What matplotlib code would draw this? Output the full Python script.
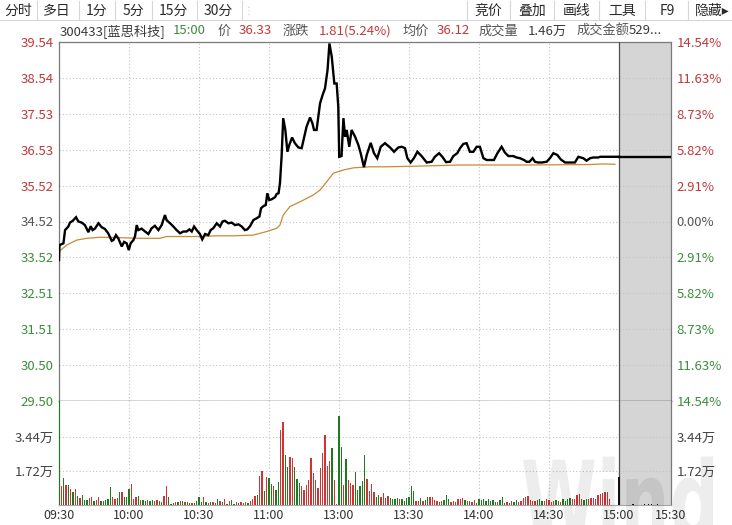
import matplotlib
matplotlib.use('Agg')
import matplotlib.pyplot as plt
from matplotlib.lines import Line2D
from matplotlib.textpath import TextPath
from matplotlib.patches import PathPatch
from matplotlib.font_manager import FontProperties
from matplotlib.transforms import Affine2D, IdentityTransform

plt.rcParams['font.family'] = ['Noto Sans CJK SC', 'DejaVu Sans']

# ---------------- data ----------------
prev_close = 34.52
close_price = 36.33

# minutes since 09:30 (lunch break removed), price
price_t = [0, 0.2, 1.9, 2.6, 4, 4.7, 5.9, 7.3, 8.3, 9.7,
           11.1, 12.6, 13.6, 14.4, 15.4, 16.9, 18.3, 19.7, 21.1, 22.6,
           23.3, 24.4, 25.4, 26.9, 27.9, 29, 29.9, 30.7, 31.9, 32.6,
           33.3, 34, 35.4, 36.9, 38.3, 39.7, 41.1, 42.6, 44, 45.4,
           46.1, 47.6, 49, 50.4, 51.9, 53.3, 54.7, 55.9, 56.9, 57.9,
           59, 60.4, 61.4, 62.6, 64, 65, 66.1, 67.6, 69, 70.1,
           71.1, 72.6, 74, 75.4, 76.9, 78.3, 79.7, 80.7, 81.9, 83.3,
           84.7, 85.9, 86.6, 87.6, 88.6, 89.3, 90.1, 91.1, 92.6, 93.3,
           94.1, 94.7, 95.4, 96.1, 97, 97.9, 98.7, 99.9, 101.1, 102.6,
           104, 105.1, 106.1, 107.6, 108.6, 109.3, 110.4, 111.9, 113, 114,
           115.1, 115.9, 116.9, 118, 119, 119.7, 120.1, 121.1, 121.9, 122.6,
           123.3, 124.4, 125.4, 126.9, 128.3, 129.3, 130.7, 131.9, 133.6, 135,
           136.4, 137.9, 139.7, 141.9, 143.6, 145.4, 146.9, 148.3, 149.3, 150.7,
           152.1, 153.6, 155.4, 157.6, 159.7, 161.1, 162.9, 164.3, 165.9, 167.6,
           169, 170.7, 171.9, 173.3, 174.7, 176.1, 177.6, 179, 180.4, 181.9,
           183.3, 185, 186.4, 187.9, 189.7, 191.1, 192.6, 194.7, 196.1, 197.6,
           199.3, 200.4, 201.6, 203, 204, 205.4, 206.9, 209, 210.4, 211.9,
           213.6, 215, 216.9, 219, 221.1, 222.6, 224.7, 226.1, 227.6, 229,
           231.1, 231.9, 239, 240]
price_v = [33.44, 33.86, 33.91, 34.28, 34.38, 34.49, 34.54, 34.64, 34.52, 34.49,
           34.42, 34.22, 34.39, 34.28, 34.32, 34.47, 34.36, 34.31, 34.19, 33.98,
           34.00, 34.14, 34.05, 33.82, 33.95, 33.91, 33.72, 33.91, 34.00, 34.11,
           34.42, 34.28, 34.32, 34.24, 34.17, 34.33, 34.40, 34.28, 34.42, 34.70,
           34.56, 34.47, 34.38, 34.28, 34.19, 34.24, 34.24, 34.30, 34.24, 34.38,
           34.28, 34.17, 34.02, 34.17, 34.14, 34.28, 34.33, 34.47, 34.38, 34.52,
           34.54, 34.47, 34.49, 34.42, 34.44, 34.38, 34.28, 34.30, 34.39, 34.56,
           34.61, 34.66, 34.89, 34.95, 34.98, 35.31, 35.12, 35.14, 35.20, 35.29,
           35.31, 35.59, 36.33, 37.41, 37.08, 36.47, 36.66, 36.87, 36.71, 36.59,
           36.57, 36.89, 37.17, 37.43, 37.27, 37.08, 37.08, 37.83, 38.06, 38.24,
           38.76, 39.50, 39.13, 38.38, 38.38, 37.73, 36.33, 36.35, 37.41, 36.89,
           37.08, 36.61, 37.08, 36.89, 36.66, 36.43, 36.04, 36.38, 36.72, 36.43,
           36.29, 36.61, 36.71, 36.59, 36.47, 36.59, 36.61, 36.57, 36.29, 36.17,
           36.29, 36.47, 36.35, 36.17, 36.19, 36.33, 36.43, 36.33, 36.18, 36.19,
           36.35, 36.43, 36.57, 36.69, 36.71, 36.47, 36.47, 36.61, 36.61, 36.29,
           36.24, 36.24, 36.24, 36.43, 36.61, 36.45, 36.35, 36.35, 36.31, 36.29,
           36.24, 36.19, 36.19, 36.29, 36.19, 36.17, 36.17, 36.19, 36.29, 36.43,
           36.38, 36.26, 36.17, 36.17, 36.17, 36.33, 36.29, 36.22, 36.29, 36.31,
           36.31, 36.33, 36.33, 36.33]

avg_t = [0, 3.3, 7.6, 11.9, 17.6, 24.7, 34.7, 43.3, 46.1, 60.4, 67.6, 74.7,
         83.3, 89, 93.3, 94.7, 96.1, 99, 103.3, 109, 111.9, 114.7, 117.6,
         121.9, 126.1, 133.3, 140.4, 154.7, 171.9, 197.6, 226.1, 233.3, 238.3]
avg_v = [33.68, 33.86, 34.00, 34.05, 34.08, 34.07, 34.05, 34.05, 34.10, 34.10,
         34.12, 34.12, 34.14, 34.24, 34.33, 34.42, 34.70, 34.94, 35.07, 35.26,
         35.40, 35.63, 35.87, 35.96, 36.02, 36.05, 36.05, 36.07, 36.10, 36.10,
         36.11, 36.13, 36.12]

# per-minute volume (万 shares), index 0 = 09:30 ... 240 = 15:00
vol = [6.0,
       0.96, 1.38, 1.01, 1.01, 0.79, 0.67, 0.81, 0.46, 0.35, 0.51,
       0.25, 0.25, 0.34, 0.42, 0.20, 0.25, 0.40, 0.20, 0.20, 0.27,
       0.29, 0.91, 0.40, 0.30, 0.37, 0.66, 0.66, 0.40, 0.40, 0.79,
       1.05, 0.32, 0.39, 0.46, 0.25, 0.25, 0.20, 0.25, 0.20, 0.25,
       0.19, 0.24, 0.20, 0.17, 0.46, 0.96, 0.40, 0.07, 0.08, 0.13,
       0.15, 0.19, 0.20, 0.13, 0.15, 0.08, 0.10, 0.10, 0.20,
       0.40, 0.17, 0.39, 0.17, 0.10, 0.15, 0.15, 0.12, 0.30, 0.20,
       0.17, 0.30, 0.07, 0.20, 0.27, 0.07, 0.17, 0.08, 0.17, 0.10,
       0.13, 0.12, 0.20, 0.30, 0.46, 0.52,
       1.47, 1.72, 0.71, 1.40, 1.37, 1.05, 0.96, 0.76, 1.18, 3.79,
       4.20, 2.53, 1.94, 2.43, 2.36, 1.94, 1.30, 1.10, 0.96, 0.76,
       1.01, 1.26, 2.36, 1.63, 1.26, 0.84, 1.88, 2.61, 3.54, 1.99,
       2.23, 2.90, 1.26, 0.05, 4.50,
       2.93, 1.01, 2.33, 1.26, 1.10, 1.01, 1.69, 0.76, 0.96, 1.23,
       2.53, 1.33, 0.72, 1.05, 0.64, 0.42, 0.51, 0.42, 0.59, 0.37,
       0.47, 0.35, 0.32, 0.29, 0.35, 0.32, 0.30, 0.20, 0.37, 0.40,
       0.96, 0.72, 0.22, 0.22, 0.35, 0.22, 0.25, 0.40, 0.40, 0.40,
       0.25, 0.20, 0.17, 0.20, 0.25, 0.51, 0.32, 0.13, 0.20, 0.17,
       0.29, 0.32, 0.34, 0.25, 0.22, 0.20, 0.17, 0.24, 0.12,
       0.32, 0.25, 0.29, 0.19, 0.29, 0.20, 0.25, 0.15, 0.17, 0.25,
       0.40, 0.08, 0.17, 0.12, 0.20, 0.13, 0.25, 0.17, 0.20, 0.34,
       0.42, 0.46, 0.25, 0.22, 0.20, 0.25, 0.29, 0.20, 0.20, 0.29,
       0.25, 0.17, 0.20, 0.25, 0.20, 0.17, 0.29, 0.20, 0.32, 0.37,
       0.32, 0.29, 0.51, 0.54, 0.30, 0.25, 0.32, 0.29, 0.34, 0.37,
       0.32, 0.51, 0.56, 0.59, 0.64, 0.66, 0.29,
       0, 0, 0, 1.42]
# r = up minute, g = down minute, k = closing auction
vol_dir = ("g"
           "rgrgrgrgrg" "ggrrgrrggg" "ggrrggrggg" "rrrgrggrgg" "rrggrrgggr"
           "grgrggrgg"
           "ggrgrgrggr" "grgrggrgrg" "rgrrrg"
           "rrgrggrggr" "rggrrgggrr" "rrrrrrrrrr" "rgrrg"
           "grgrrrgggg" "grrrrggrrr" "rggggrgggg" "ggrrgrggrr" "rrgrgggrrr"
           "rrrgrgrrg"
           "ggggggggrg" "ggrgrggrrr" "rrrrrgggrr" "rrrggrgggg" "rrrrrggrrr"
           "rrrrrrr"
           "ggg" "k")
after_t = [246, 251, 252.6, 254, 256.5]
after_v = [0.04, 0.04, 0.04, 0.04, 0.04]

price_ticks = [29.50, 30.50, 31.51, 32.51, 33.52, 34.52, 35.52, 36.53, 37.53, 38.54, 39.54]
pct_labels = ['14.54%', '11.63%', '8.73%', '5.82%', '2.91%', '0.00%',
              '2.91%', '5.82%', '8.73%', '11.63%', '14.54%']
vol_ticks = [1.72, 3.44]
vol_tick_labels = ['1.72万', '3.44万']
time_labels = ['09:30', '10:00', '10:30', '11:00', '13:00', '13:30',
               '14:00', '14:30', '15:00', '15:30']
toolbar_left = ['分时', '多日', '1分', '5分', '15分', '30分']
toolbar_right = ['竞价', '叠加', '画线', '工具', 'F9', '隐藏▸']
header = [('300433[蓝思科技]', 'dark'), ('15:00', 'green'), ('价', 'label'),
          ('36.33', 'red'), ('涨跌', 'label'), ('1.81(5.24%)', 'red'),
          ('均价', 'label'), ('36.12', 'red'), ('成交量', 'label'),
          ('1.46万', 'dark'), ('成交金额', 'label'), ('529...', 'dark')]

# ---------------- style / layout ----------------
RED_T = '#c0393b'
GREEN_T = '#3c8c3c'
GRAY_T = '#555555'
DARK_T = '#3a3a3a'
BAR_RED = '#cf3434'
BAR_GREEN = '#1f7a1f'
text_colors = {'dark': DARK_T, 'green': GREEN_T, 'label': '#555555', 'red': RED_T}
TICK_FS = 9.5

W, H = 732, 525
fig = plt.figure(figsize=(W / 100, H / 100), dpi=100, facecolor='white')

L, R = 59, 671
TOP, MID, BOT = 42, 401, 505
SESSION_END = 240
AX_END = 262.3
time_pos = [0, 30, 60, 90, 120, 150, 180, 210, 240, AX_END]


def rect(x0, y0, x1, y1):
    return [x0 / W, 1 - y1 / H, (x1 - x0) / W, (y1 - y0) / H]


ax_p = fig.add_axes(rect(L, TOP, R, MID))
ax_v = fig.add_axes(rect(L, MID, R, BOT))

grid_kw = dict(color='#c4c4c4', linestyle=(0, (1, 2)), linewidth=0.8)
for ax in (ax_p, ax_v):
    ax.set_xlim(0, AX_END)
    ax.set_xticks(time_pos)
    ax.set_axisbelow(True)
    ax.grid(True, **grid_kw)
    ax.axvspan(SESSION_END, AX_END, color='#d5d5d5', zorder=0.5, lw=0)
    ax.axvline(SESSION_END, color='#505050', lw=0.9, zorder=3)
    ax.tick_params(length=0)
    for s in ('left', 'right'):
        ax.spines[s].set_color('#7a7a7a')
        ax.spines[s].set_linewidth(0.9)

# price panel
ax_p.set_ylim(price_ticks[0], price_ticks[-1])
ax_p.set_yticks(price_ticks)
ax_p.set_yticklabels([f'{v:.2f}' for v in price_ticks], fontsize=TICK_FS)
ax_p.tick_params(axis='y', pad=4)
ax_p.tick_params(axis='x', labelbottom=False)


def level_color(v):
    if abs(v - prev_close) < 1e-6:
        return GRAY_T
    return RED_T if v > prev_close else GREEN_T


for lab, v in zip(ax_p.get_yticklabels(), price_ticks):
    lab.set_color(level_color(v))
ax_p.spines['top'].set_color('#7a7a7a')
ax_p.spines['top'].set_linewidth(0.9)
ax_p.spines['bottom'].set_color('#3a3a3a')
ax_p.spines['bottom'].set_linewidth(1.0)

ax_p.plot(avg_t, avg_v, color='#c98a35', lw=0.9, zorder=4)
ax_p.plot(price_t, price_v, color='black', lw=1.7, zorder=5,
          solid_joinstyle='miter')
ax_p.plot([SESSION_END, AX_END], [close_price, close_price], color='black',
          lw=1.7, zorder=5)

axr_p = ax_p.twinx()
axr_p.set_ylim(price_ticks[0], price_ticks[-1])
axr_p.set_yticks(price_ticks)
axr_p.set_yticklabels(pct_labels, fontsize=TICK_FS)
axr_p.tick_params(length=0, pad=4)
for lab, v in zip(axr_p.get_yticklabels(), price_ticks):
    lab.set_color(level_color(v))
for s in axr_p.spines.values():
    s.set_visible(False)

# volume panel
ax_v.set_ylim(0, 5.26)
ax_v.set_yticks(vol_ticks)
ax_v.set_yticklabels(vol_tick_labels, fontsize=TICK_FS, color='#444444')
ax_v.tick_params(axis='y', pad=4)
ax_v.set_xticklabels(time_labels, fontsize=9, color='#333333')
ax_v.tick_params(axis='x', pad=3)
ax_v.spines['top'].set_visible(False)
ax_v.spines['bottom'].set_color('#a8a8a8')

cmap = {'r': BAR_RED, 'g': BAR_GREEN, 'k': '#111111'}
idx = list(range(len(vol)))
ax_v.bar(idx, vol, width=0.6, color=[cmap[c] for c in vol_dir], lw=0, zorder=3)
ax_v.bar(after_t, after_v, width=0.6, color='#111111', lw=0, zorder=3)

axr_v = ax_v.twinx()
axr_v.set_ylim(0, 5.26)
axr_v.set_yticks(vol_ticks)
axr_v.set_yticklabels(vol_tick_labels, fontsize=TICK_FS, color='#444444')
axr_v.tick_params(length=0, pad=4)
for s in axr_v.spines.values():
    s.set_visible(False)


# toolbar
def fx(x):
    return x / W


def fy(y):
    return 1 - y / H


tb_left_x = [18, 57, 97, 133, 173, 218]
tb_left_sep = [37, 79, 115, 152, 197, 242]
tb_right_x = [488, 532, 577, 622, 667, 712]
tb_right_sep = [467, 510, 554, 599, 645, 688]
for s, x in zip(toolbar_left, tb_left_x):
    fig.text(fx(x), fy(11), s, ha='center', va='center', fontsize=10, color='#2a2a2a')
for s, x in zip(toolbar_right, tb_right_x):
    fig.text(fx(x), fy(11), s, ha='center', va='center', fontsize=10, color='#2a2a2a')
for x in tb_left_sep + tb_right_sep:
    fig.add_artist(Line2D([fx(x), fx(x)], [fy(1), fy(19)], color='#d6d6d6', lw=0.8))
fig.add_artist(Line2D([0, 1], [fy(20), fy(20)], color='#d6d6d6', lw=0.8))
fig.text(fx(248), fy(11), '⋮', ha='center', va='center', fontsize=7,
         color='#c8c8c8', family='DejaVu Sans')

# header line
hdr_x = [60, 173, 218, 239, 283, 319, 403, 437, 479, 528, 577, 629]
for (s, kind), x in zip(header, hdr_x):
    fig.text(fx(x), fy(31), s, ha='left', va='center', fontsize=9.5,
             color=text_colors[kind])

# watermark
tp = TextPath((0, 0), 'Wind', size=1, prop=FontProperties(family='DejaVu Sans', weight='bold'))
ext = tp.get_extents()
sx = 190 / ext.width
sy = 82 / ext.height
wm = PathPatch(tp, transform=Affine2D().translate(-ext.x0, 0).scale(sx, sy).translate(523, -12)
               + IdentityTransform(), facecolor='black', alpha=0.07, lw=0)
fig.add_artist(wm)

fig.savefig('out.png', dpi=100, facecolor='white')
